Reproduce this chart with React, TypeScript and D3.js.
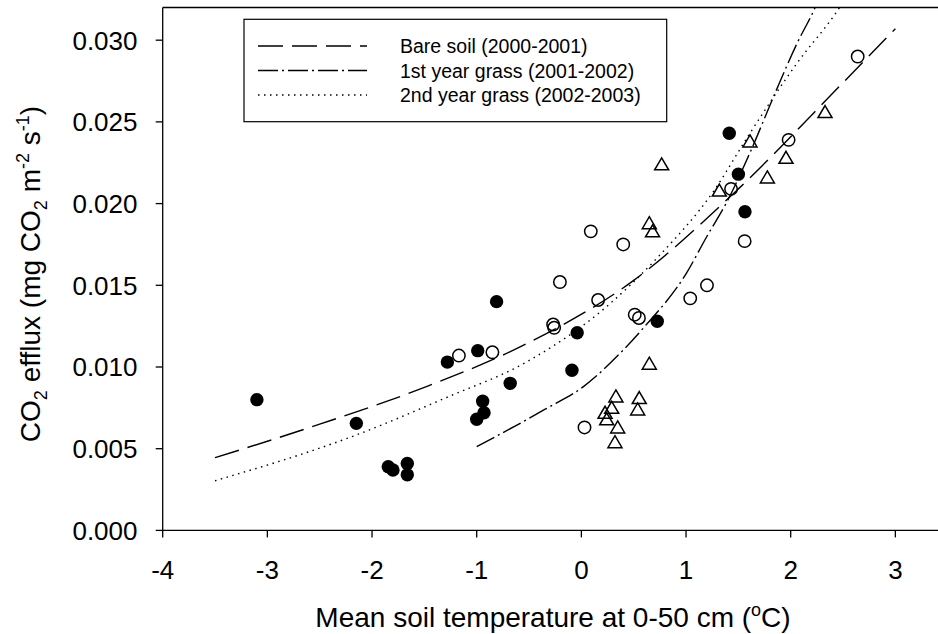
import React from "react";
import * as d3 from "d3";

// ---- Data ----
// Measured points: [temperature °C, CO2 efflux]
const bareSoilPoints: [number, number][] = [
  [-3.1, 0.008], [-2.15, 0.00655], [-1.845, 0.0039], [-1.8, 0.0037], [-1.663, 0.0041],
  [-1.663, 0.0034], [-1.28, 0.0103], [-0.99, 0.011], [-0.81, 0.014], [-0.943, 0.0079],
  [-0.93, 0.0072], [-1.0, 0.0068], [-0.68, 0.009], [-0.04, 0.0121], [-0.09, 0.0098],
  [0.725, 0.0128], [1.413, 0.0243], [1.5, 0.0218], [1.563, 0.0195],
];
const firstYearPoints: [number, number][] = [
  [-1.17, 0.0107], [-0.85, 0.0109], [-0.27, 0.0126], [-0.26, 0.0124], [-0.205, 0.0152],
  [0.16, 0.0141], [0.09, 0.0183], [0.4, 0.0175], [0.03, 0.0063], [0.51, 0.0132],
  [0.55, 0.013], [1.04, 0.0142], [1.2, 0.015], [1.43, 0.0209], [1.56, 0.0177],
  [1.98, 0.0239], [2.64, 0.029],
];
const secondYearPoints: [number, number][] = [
  [0.226, 0.0072], [0.242, 0.0068], [0.29, 0.0075], [0.33, 0.0082], [0.347, 0.0063],
  [0.321, 0.0054], [0.538, 0.0074], [0.553, 0.0081], [0.649, 0.0102], [0.649, 0.0188],
  [0.68, 0.0183], [0.767, 0.0224], [1.318, 0.0208], [1.611, 0.0238], [1.777, 0.0216],
  [1.955, 0.0228], [2.328, 0.0256],
];

// Fitted curves
const bareSoilCurve: [number, number][] = [
  [-3.5, 0.00445], [-2.5, 0.0065], [-1.5, 0.00875], [-0.5, 0.0115], [0.5, 0.0153],
  [1.5, 0.0209], [2.5, 0.0274], [3.0, 0.0307],
];
const firstYearCurve: [number, number][] = [
  [-1.0, 0.00512], [-0.35, 0.0074], [0.02, 0.0088], [0.37, 0.01084], [0.59, 0.01237],
  [1.0, 0.0157], [1.2, 0.018], [1.39, 0.0201], [1.61, 0.0231], [1.85, 0.02675],
  [2.06, 0.0298], [2.23, 0.03195], [2.3, 0.033],
];
const secondYearCurve: [number, number][] = [
  [-3.5, 0.00304], [-2.15, 0.00584], [-1.3, 0.0081], [-0.52, 0.01032], [0.24, 0.01369],
  [0.735, 0.01675], [1.26, 0.02073], [1.61, 0.0243], [2.06, 0.02859], [2.44, 0.03174],
  [2.55, 0.0328],
];

const xTicks = [-4, -3, -2, -1, 0, 1, 2, 3];
const yTicks = [0, 0.005, 0.01, 0.015, 0.02, 0.025, 0.03];
const legendLabels = [
  "Bare soil (2000-2001)",
  "1st year grass (2001-2002)",
  "2nd year grass (2002-2003)",
];

const FONT = "'Liberation Sans', Arial, Helvetica, sans-serif";

export default function App() {
  const W = 938;
  const H = 634;
  const x = d3.scaleLinear().domain([-4, 3.5]).range([162.7, 947.7]);
  const y = d3.scaleLinear().domain([0, 0.032]).range([530.4, 7.5]);
  const [x0, x1] = x.range();
  const [yb, yt] = y.range();

  const line = d3
    .line<[number, number]>()
    .x((d) => x(d[0]))
    .y((d) => y(d[1]))
    .curve(d3.curveMonotoneX);

  const dashes = ["25,9", "20,4,2,4", "1.5,4.5"];
  const curves = [bareSoilCurve, firstYearCurve, secondYearCurve];
  const fmt = d3.format(".3f");
  const tri = "M0,-6.5 L7,5.5 L-7,5.5 Z";

  return (
    <svg
      width={W}
      height={H}
      style={{ position: "absolute", left: 0, top: 0, background: "#fff" }}
      fontFamily={FONT}
    >
      <defs>
        <clipPath id="plotclip">
          <rect x={x0} y={yt} width={x1 - x0} height={yb - yt} />
        </clipPath>
      </defs>
      <rect x={0} y={0} width={W} height={H} fill="#fff" />

      {/* frame */}
      <line x1={x0} x2={x1} y1={yt} y2={yt} stroke="#000" strokeWidth={1.3} />
      <line x1={x0} x2={x1} y1={yb} y2={yb} stroke="#000" strokeWidth={1.3} />
      <line x1={x0} x2={x0} y1={yt} y2={yb} stroke="#000" strokeWidth={1.3} />

      {/* x ticks */}
      {xTicks.map((t) => (
        <g key={"xt" + t}>
          <line x1={x(t)} x2={x(t)} y1={yb} y2={yb + 7} stroke="#000" strokeWidth={1.3} />
          <text x={x(t)} y={578.5} fontSize={26} textAnchor="middle" fill="#000">
            {t}
          </text>
        </g>
      ))}
      {/* y ticks */}
      {yTicks.map((t) => (
        <g key={"yt" + t}>
          <line x1={x0 - 7} x2={x0} y1={y(t)} y2={y(t)} stroke="#000" strokeWidth={1.3} />
          <text x={137.5} y={y(t) + 9.5} fontSize={26} textAnchor="end" fill="#000">
            {fmt(t)}
          </text>
        </g>
      ))}

      {/* axis titles */}
      <text x={553} y={627} fontSize={28} textAnchor="middle" fill="#000">
        Mean soil temperature at 0-50 cm (
        <tspan fontSize={18} dy={-11}>o</tspan>
        <tspan dy={11}>C)</tspan>
      </text>
      <text
        transform="translate(40,274) rotate(-90)"
        fontSize={28}
        textAnchor="middle"
        fill="#000"
      >
        CO<tspan fontSize={18} dy={7}>2</tspan>
        <tspan dy={-7}> efflux (mg CO</tspan>
        <tspan fontSize={18} dy={7}>2</tspan>
        <tspan dy={-7}> m</tspan>
        <tspan fontSize={18} dy={-11}>-2</tspan>
        <tspan dy={11}> s</tspan>
        <tspan fontSize={18} dy={-11}>-1</tspan>
        <tspan dy={11}>)</tspan>
      </text>

      {/* curves */}
      <g clipPath="url(#plotclip)">
        {curves.map((c, i) => (
          <path
            key={"c" + i}
            d={line(c) || ""}
            fill="none"
            stroke="#000"
            strokeWidth={1.4}
            strokeDasharray={dashes[i]}
          />
        ))}
      </g>

      {/* markers */}
      <g>
        {secondYearPoints.map((d, i) => (
          <path
            key={"t" + i}
            d={tri}
            transform={`translate(${x(d[0])},${y(d[1])})`}
            fill="none"
            stroke="#000"
            strokeWidth={1.5}
          />
        ))}
        {firstYearPoints.map((d, i) => (
          <circle
            key={"o" + i}
            cx={x(d[0])}
            cy={y(d[1])}
            r={6.2}
            fill="none"
            stroke="#000"
            strokeWidth={1.5}
          />
        ))}
        {bareSoilPoints.map((d, i) => (
          <circle key={"f" + i} cx={x(d[0])} cy={y(d[1])} r={6.7} fill="#000" />
        ))}
      </g>

      {/* legend */}
      <rect x={244} y={19.3} width={422.7} height={102.4} fill="#fff" stroke="#000" strokeWidth={1.2} />
      {legendLabels.map((lab, i) => {
        const cy = 46 + i * 24.5;
        return (
          <g key={"lg" + i}>
            <line x1={258} x2={367} y1={cy} y2={cy} stroke="#000" strokeWidth={1.4} strokeDasharray={dashes[i]} />
            <text x={400} y={cy + 7} fontSize={19.5} fill="#000">
              {lab}
            </text>
          </g>
        );
      })}
    </svg>
  );
}
